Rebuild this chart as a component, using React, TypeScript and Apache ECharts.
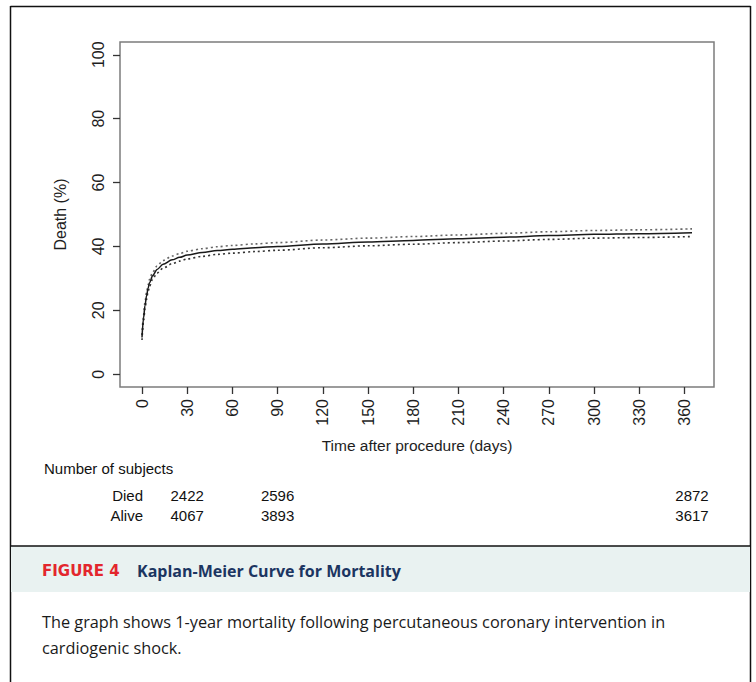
import { useEffect, useRef } from "react";
import * as echarts from "echarts";

// Kaplan-Meier estimate of mortality (%)
const days = [0, 1, 2, 3, 4, 5, 7, 10, 14, 20, 25, 30, 40, 50, 60, 75, 90, 120, 150, 180, 210, 240, 270, 300, 330, 365];
const mortality = [11.5, 17.5, 21.5, 24.5, 26.8, 28.6, 30.8, 32.8, 34.4, 35.8, 36.6, 37.3, 38.1, 38.7, 39.1, 39.6, 40.0, 40.8, 41.4, 41.9, 42.4, 42.9, 43.4, 43.8, 44.0, 44.3];
const upperCI = [12.3, 18.5, 22.6, 25.6, 27.9, 29.7, 31.9, 33.9, 35.6, 37.0, 37.8, 38.5, 39.3, 39.9, 40.3, 40.8, 41.2, 42.0, 42.6, 43.1, 43.6, 44.1, 44.6, 45.0, 45.2, 45.5];
const lowerCI = [10.7, 16.5, 20.4, 23.4, 25.7, 27.5, 29.7, 31.7, 33.2, 34.6, 35.4, 36.1, 36.9, 37.5, 37.9, 38.4, 38.8, 39.6, 40.2, 40.7, 41.2, 41.7, 42.2, 42.6, 42.8, 43.1];

const xTicks = [0, 30, 60, 90, 120, 150, 180, 210, 240, 270, 300, 330, 360];
const yTicks = [0, 20, 40, 60, 80, 100];

const riskTimes = [30, 90, 365];
const diedCounts = [2422, 2596, 2872];
const aliveCounts = [4067, 3893, 3617];

const FONT = "'Liberation Sans', Arial, sans-serif";
const CAP_FONT = "'Open Sans', 'Noto Sans', sans-serif";

export default function App() {
  const ref = useRef<HTMLDivElement>(null);

  useEffect(() => {
    if (!ref.current) return;
    const chart = echarts.init(ref.current, undefined, { renderer: "svg" });

    const toPairs = (vals: number[]) => days.map((d, i) => [d, vals[i]]);

    const option: any = {
      animation: false,
      backgroundColor: "#ffffff",
      grid: {
        left: 120,
        top: 42,
        width: 594,
        height: 345,
        show: true,
        borderColor: "#7c7c7c",
        borderWidth: 1.5,
        backgroundColor: "transparent",
        containLabel: false,
        outerBoundsMode: "none",
      },
      xAxis: {
        type: "value",
        min: -14.6,
        max: 379.6,
        splitLine: { show: false },
        axisLine: { show: false, onZero: false },
        axisTick: { show: true, customValues: xTicks, length: 7, lineStyle: { color: "#333", width: 1.3 } },
        axisLabel: { customValues: xTicks, rotate: 90, margin: 12, fontSize: 16, color: "#1e1e1e", fontFamily: FONT },
        name: "Time after procedure (days)",
        nameLocation: "middle",
        nameGap: 50,
        nameTextStyle: { fontSize: 15.5, color: "#1e1e1e", fontFamily: FONT },
      },
      yAxis: {
        type: "value",
        min: -4,
        max: 104,
        splitLine: { show: false },
        axisLine: { show: false, onZero: false },
        axisTick: { show: true, customValues: yTicks, length: 7, lineStyle: { color: "#333", width: 1.3 } },
        axisLabel: { customValues: yTicks, rotate: 90, margin: 14, fontSize: 16, color: "#1e1e1e", fontFamily: FONT },
        name: "Death (%)",
        nameLocation: "middle",
        nameRotate: 90,
        nameGap: 52,
        nameTextStyle: { fontSize: 16, color: "#1e1e1e", fontFamily: FONT },
      },
      series: [
        {
          type: "line",
          data: toPairs(upperCI),
          showSymbol: false,
          smooth: 0.3,
          smoothMonotone: "x",
          lineStyle: { color: "#666", width: 1.6, type: [2, 3] },
        },
        {
          type: "line",
          data: toPairs(lowerCI),
          showSymbol: false,
          smooth: 0.3,
          smoothMonotone: "x",
          lineStyle: { color: "#333", width: 1.6, type: [2, 3] },
        },
        {
          type: "line",
          data: toPairs(mortality),
          showSymbol: false,
          smooth: 0.3,
          smoothMonotone: "x",
          lineStyle: { color: "#1a1a1a", width: 1.5 },
        },
      ],
    };

    chart.setOption(option);

    const textStyle = { fontSize: 15, fill: "#111", fontFamily: FONT };
    const tableTexts: any[] = [];
    riskTimes.forEach((t, i) => {
      const x = chart.convertToPixel({ xAxisIndex: 0 }, t) as number;
      tableTexts.push({
        type: "text",
        x,
        y: 495,
        style: { ...textStyle, text: String(diedCounts[i]), align: "center", verticalAlign: "middle" },
      });
      tableTexts.push({
        type: "text",
        x,
        y: 515,
        style: { ...textStyle, text: String(aliveCounts[i]), align: "center", verticalAlign: "middle" },
      });
    });

    chart.setOption({
      graphic: [
        // outer frame
        { type: "line", shape: { x1: 10.5, y1: 6.5, x2: 750.5, y2: 6.5 }, style: { stroke: "#111", lineWidth: 1.5 } },
        { type: "line", shape: { x1: 10.5, y1: 6, x2: 10.5, y2: 690 }, style: { stroke: "#111", lineWidth: 1.5 } },
        { type: "line", shape: { x1: 750.5, y1: 6, x2: 750.5, y2: 690 }, style: { stroke: "#111", lineWidth: 1.5 } },
        // caption band
        { type: "rect", shape: { x: 11, y: 546, width: 739, height: 46 }, style: { fill: "#e9f2f1" } },
        { type: "line", shape: { x1: 10.5, y1: 546, x2: 750.5, y2: 546 }, style: { stroke: "#111", lineWidth: 1.5 } },
        // number at risk
        { type: "text", x: 44, y: 468, style: { ...textStyle, text: "Number of subjects", align: "left", verticalAlign: "middle" } },
        { type: "text", x: 143, y: 495, style: { ...textStyle, text: "Died", align: "right", verticalAlign: "middle" } },
        { type: "text", x: 143, y: 515, style: { ...textStyle, text: "Alive", align: "right", verticalAlign: "middle" } },
        ...tableTexts,
        // caption
        {
          type: "text",
          x: 42,
          y: 571,
          style: { text: "FIGURE 4", fontSize: 15, fontWeight: "bold", fill: "#e3262d", fontFamily: "'DejaVu Sans', sans-serif", align: "left", verticalAlign: "middle" },
        },
        {
          type: "text",
          x: 137,
          y: 571,
          style: { text: "Kaplan-Meier Curve for Mortality", fontSize: 16, fontWeight: "bold", fill: "#1b3561", fontFamily: CAP_FONT, align: "left", verticalAlign: "middle" },
        },
        {
          type: "text",
          x: 42,
          y: 622,
          style: { text: "The graph shows 1-year mortality following percutaneous coronary intervention in", fontSize: 16.3, fill: "#1a1a1a", fontFamily: CAP_FONT, align: "left", verticalAlign: "middle" },
        },
        {
          type: "text",
          x: 42,
          y: 648,
          style: { text: "cardiogenic shock.", fontSize: 16.3, fill: "#1a1a1a", fontFamily: CAP_FONT, align: "left", verticalAlign: "middle" },
        },
      ],
    });

    return () => chart.dispose();
  }, []);

  return (
    <div
      ref={ref}
      style={{ position: "fixed", left: 0, top: 0, width: 756, height: 682, background: "#fff" }}
    />
  );
}
